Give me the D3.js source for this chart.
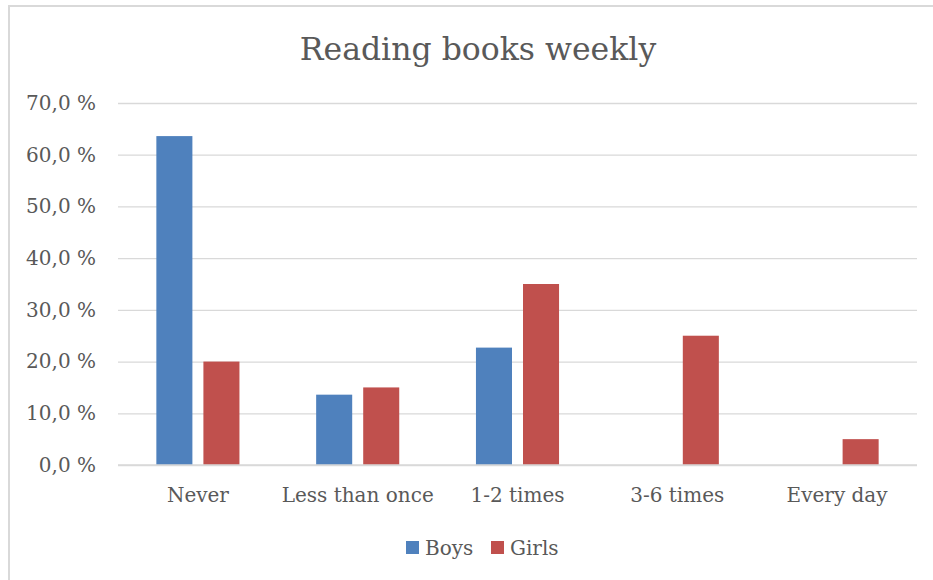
<!DOCTYPE html>
<html>
<head>
<meta charset="utf-8">
<script src="https://cdn.jsdelivr.net/npm/d3@7"></script>
<style>
  html, body { margin: 0; padding: 0; background: #fff; }
  svg { display: block; }
  text { font-family: "DejaVu Serif", "Liberation Serif", serif; fill: #595959; }
</style>
</head>
<body>
<svg id="chart" width="933" height="580"></svg>
<script>
// Survey data: share of pupils reading books, by frequency per week
const categories = ["Never", "Less than once", "1-2 times", "3-6 times", "Every day"];
const seriesNames = ["Boys", "Girls"];
const boys = [63.6, 13.6, 22.7, 0, 0];
const girls = [20, 15, 35, 25, 5];
const yTicks = [0, 10, 20, 30, 40, 50, 60, 70];
const colors = { Boys: "#4F81BD", Girls: "#C0504D" };
const title = "Reading books weekly";

const FONT = "\"DejaVu Serif\", \"Liberation Serif\", serif";
const svg = d3.select("#chart");
const W = 933, H = 580;
const plot = { left: 118, right: 917, top: 103, bottom: 465 };

// chart frame
svg.append("path")
  .attr("d", `M9,${H} V6 H${W}`)
  .attr("fill", "none")
  .attr("stroke", "#d9d9d9")
  .attr("stroke-width", 2);

// title
svg.append("text")
  .attr("x", 478)
  .attr("y", 60)
  .attr("text-anchor", "middle")
  .style("font-size", "31.5px")
  .style("font-family", FONT)
  .text(title);

const y = d3.scaleLinear().domain([0, 70]).range([plot.bottom, plot.top]);
const x0 = d3.scaleBand().domain(categories).range([plot.left, plot.right])
  .paddingInner(0.48).paddingOuter(0.24);
const x1 = d3.scaleBand().domain(seriesNames).range([0, x0.bandwidth()])
  .paddingInner(0.234);

// gridlines and y labels
const yAxis = d3.axisLeft(y)
  .tickValues(yTicks)
  .tickSize(-(plot.right - plot.left))
  .tickPadding(22)
  .tickFormat(d => d3.format(".1f")(d).replace(".", ",") + " %");

const gy = svg.append("g")
  .attr("transform", `translate(${plot.left},0)`)
  .call(yAxis);
gy.select(".domain").remove();
gy.selectAll(".tick line").attr("stroke", "#d9d9d9").attr("stroke-width", 1.3);
gy.selectAll(".tick text")
  .attr("fill", "#595959")
  .style("font-size", "20px")
  .style("font-family", FONT);

// bars
const rows = categories.map((c, i) => ({ category: c, values: { Boys: boys[i], Girls: girls[i] } }));
const groups = svg.append("g").selectAll("g")
  .data(rows).join("g")
  .attr("transform", d => `translate(${x0(d.category)},0)`);

groups.selectAll("rect")
  .data(d => seriesNames.map(s => ({ s, v: d.values[s] })).filter(e => e.v > 0))
  .join("rect")
  .attr("x", d => x1(d.s))
  .attr("width", x1.bandwidth())
  .attr("y", d => y(d.v))
  .attr("height", d => y(0) - y(d.v))
  .attr("fill", d => colors[d.s]);

// baseline
svg.append("line")
  .attr("x1", plot.left).attr("x2", plot.right)
  .attr("y1", y(0)).attr("y2", y(0))
  .attr("stroke", "#d9d9d9").attr("stroke-width", 1.5);

// x axis labels
const xAxis = d3.axisBottom(x0).tickSize(0).tickPadding(23);
const gx = svg.append("g")
  .attr("transform", `translate(0,${plot.bottom})`)
  .call(xAxis);
gx.select(".domain").remove();
gx.selectAll(".tick text")
  .attr("fill", "#595959")
  .style("font-size", "20px")
  .style("font-family", FONT);

// legend
const legend = svg.append("g").attr("transform", "translate(406,541)");
const items = [{ name: "Boys", x: 0 }, { name: "Girls", x: 85 }];
const li = legend.selectAll("g").data(items).join("g")
  .attr("transform", d => `translate(${d.x},0)`);
li.append("rect").attr("width", 13).attr("height", 13).attr("fill", d => colors[d.name]);
li.append("text").attr("x", 19).attr("y", 14).style("font-size", "20px").text(d => d.name);
</script>
</body>
</html>
